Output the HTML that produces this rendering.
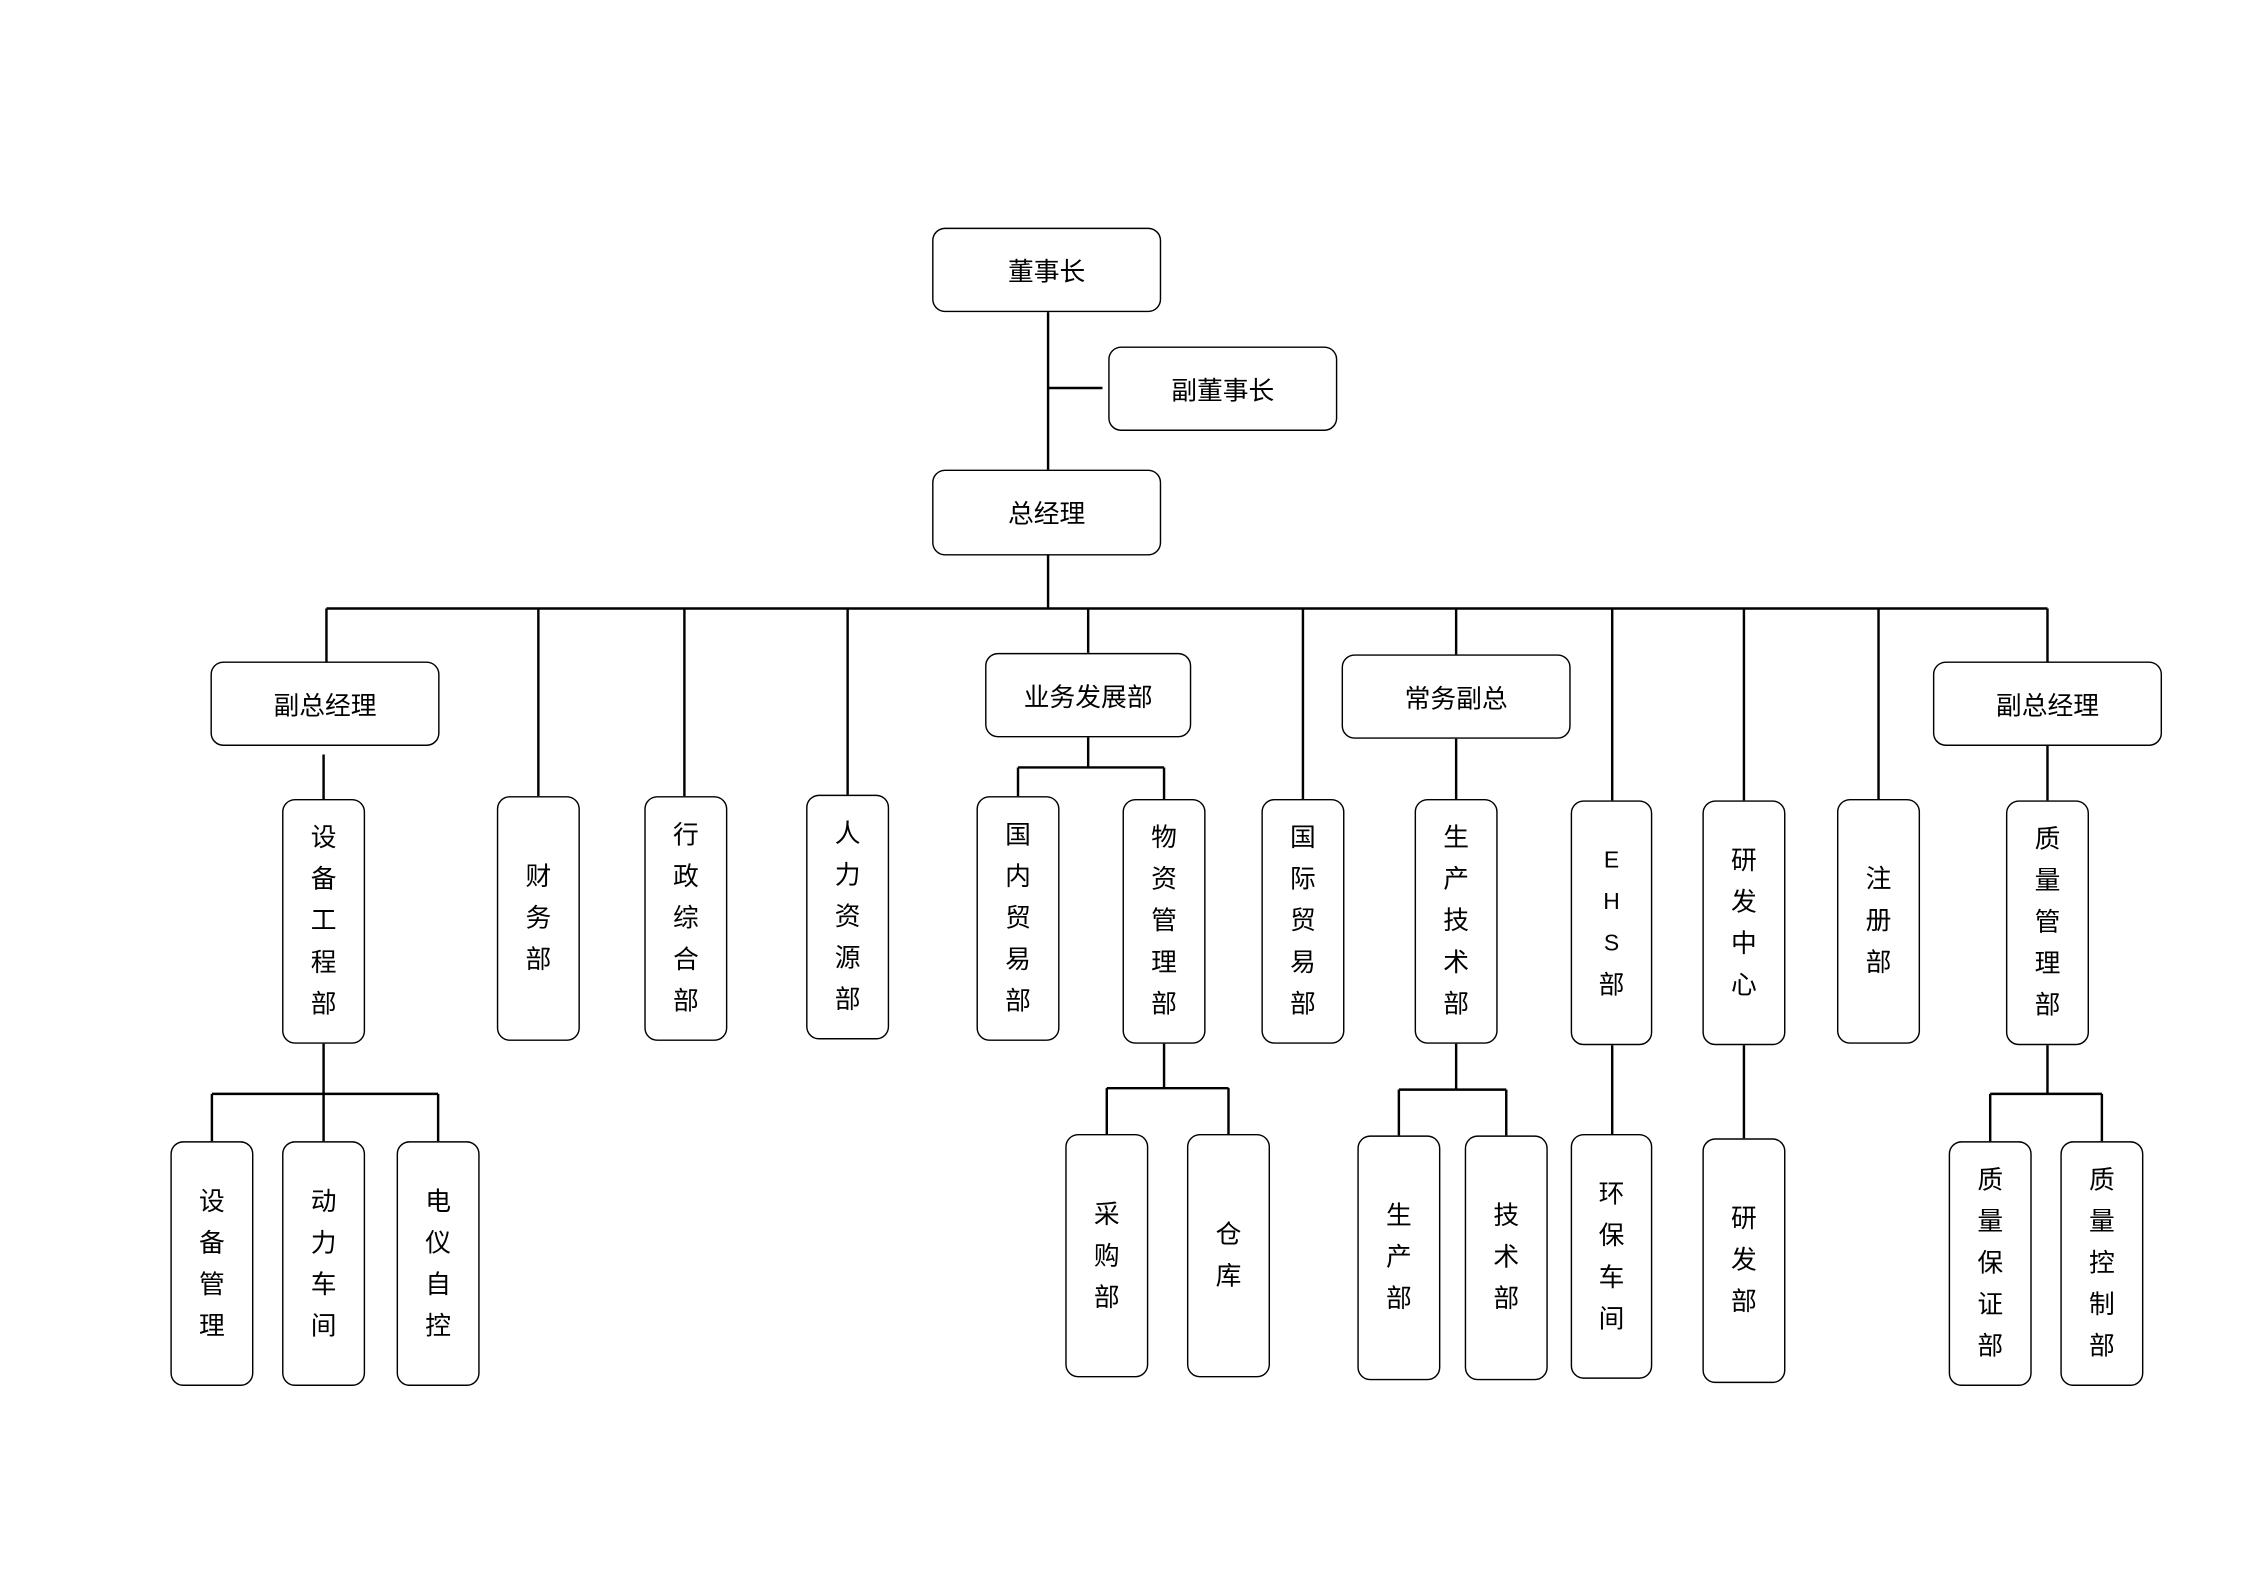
<!DOCTYPE html>
<html><head><meta charset="utf-8"><style>
html,body{margin:0;padding:0;background:#fff;}
body{width:2245px;height:1587px;overflow:hidden;position:relative;}
#w{position:absolute;left:0;top:0;width:1568px;height:1108px;transform:scale(1.4318);transform-origin:0 0;}
.b{position:absolute;box-sizing:border-box;border:1.9px solid #000;border-radius:9px;background:#fff;display:flex;align-items:center;justify-content:center;flex-direction:column;font-family:"Liberation Sans","Noto Sans CJK SC",sans-serif;font-size:18px;color:#000;}
.v div{line-height:29px;height:29px;text-align:center;}
svg{position:absolute;left:0;top:0;}
</style></head><body><div id="w">
<svg width="1568" height="1108" stroke="#000" stroke-width="1.7" fill="none">
<path d="M732 218V328M732 271H770M732 388V425M228 425H1430"/>
<path d="M228 425V462M376 425V556M478 425V556M592 425V555M760 425V456M910 425V558M1017 425V457M1126 425V559M1218 425V559M1312 425V558M1430 425V462"/>
<path d="M226 527V558M760 515V536M711 536H813M711 536V556M813 536V558M1017 516V558M1430 521V559"/>
<path d="M226 729V764M148 764H306M148 764V797M226 764V797M306 764V797"/>
<path d="M813 729V760M773 760H858M773 760V792M858 760V792"/>
<path d="M1017 729V761M977 761H1052M977 761V793M1052 761V793"/>
<path d="M1126 730V792M1218 730V795M1430 730V764M1390 764H1468M1390 764V797M1468 764V797"/>
</svg>
<div class="b" style="left:651px;top:159px;width:160px;height:59px">董事长</div>
<div class="b" style="left:774px;top:242px;width:160px;height:59px">副董事长</div>
<div class="b" style="left:651px;top:328px;width:160px;height:60px">总经理</div>
<div class="b" style="left:147px;top:462px;width:160px;height:59px">副总经理</div>
<div class="b" style="left:688px;top:456px;width:144px;height:59px">业务发展部</div>
<div class="b" style="left:937px;top:457px;width:160px;height:59px">常务副总</div>
<div class="b" style="left:1350px;top:462px;width:160px;height:59px">副总经理</div>

<div class="b v" style="left:197px;top:558px;width:58px;height:171px"><div>设</div><div>备</div><div>工</div><div>程</div><div>部</div></div>
<div class="b v" style="left:347px;top:556px;width:58px;height:171px"><div>财</div><div>务</div><div>部</div></div>
<div class="b v" style="left:450px;top:556px;width:58px;height:171px"><div>行</div><div>政</div><div>综</div><div>合</div><div>部</div></div>
<div class="b v" style="left:563px;top:555px;width:58px;height:171px"><div>人</div><div>力</div><div>资</div><div>源</div><div>部</div></div>
<div class="b v" style="left:682px;top:556px;width:58px;height:171px"><div>国</div><div>内</div><div>贸</div><div>易</div><div>部</div></div>
<div class="b v" style="left:784px;top:558px;width:58px;height:171px"><div>物</div><div>资</div><div>管</div><div>理</div><div>部</div></div>
<div class="b v" style="left:881px;top:558px;width:58px;height:171px"><div>国</div><div>际</div><div>贸</div><div>易</div><div>部</div></div>
<div class="b v" style="left:988px;top:558px;width:58px;height:171px"><div>生</div><div>产</div><div>技</div><div>术</div><div>部</div></div>
<div class="b v" style="left:1097px;top:559px;width:57px;height:171px;font-size:16px"><div>E</div><div>H</div><div>S</div><div style="font-size:18px">部</div></div>
<div class="b v" style="left:1189px;top:559px;width:58px;height:171px"><div>研</div><div>发</div><div>中</div><div>心</div></div>
<div class="b v" style="left:1283px;top:558px;width:58px;height:171px"><div>注</div><div>册</div><div>部</div></div>
<div class="b v" style="left:1401px;top:559px;width:58px;height:171px"><div>质</div><div>量</div><div>管</div><div>理</div><div>部</div></div>

<div class="b v" style="left:119px;top:797px;width:58px;height:171px"><div>设</div><div>备</div><div>管</div><div>理</div></div>
<div class="b v" style="left:197px;top:797px;width:58px;height:171px"><div>动</div><div>力</div><div>车</div><div>间</div></div>
<div class="b v" style="left:277px;top:797px;width:58px;height:171px"><div>电</div><div>仪</div><div>自</div><div>控</div></div>
<div class="b v" style="left:744px;top:792px;width:58px;height:170px"><div>采</div><div>购</div><div>部</div></div>
<div class="b v" style="left:829px;top:792px;width:58px;height:170px"><div>仓</div><div>库</div></div>
<div class="b v" style="left:948px;top:793px;width:58px;height:171px"><div>生</div><div>产</div><div>部</div></div>
<div class="b v" style="left:1023px;top:793px;width:58px;height:171px"><div>技</div><div>术</div><div>部</div></div>
<div class="b v" style="left:1097px;top:792px;width:57px;height:171px"><div>环</div><div>保</div><div>车</div><div>间</div></div>
<div class="b v" style="left:1189px;top:795px;width:58px;height:171px"><div>研</div><div>发</div><div>部</div></div>
<div class="b v" style="left:1361px;top:797px;width:58px;height:171px"><div>质</div><div>量</div><div>保</div><div>证</div><div>部</div></div>
<div class="b v" style="left:1439px;top:797px;width:58px;height:171px"><div>质</div><div>量</div><div>控</div><div>制</div><div>部</div></div>
</div></body></html>
